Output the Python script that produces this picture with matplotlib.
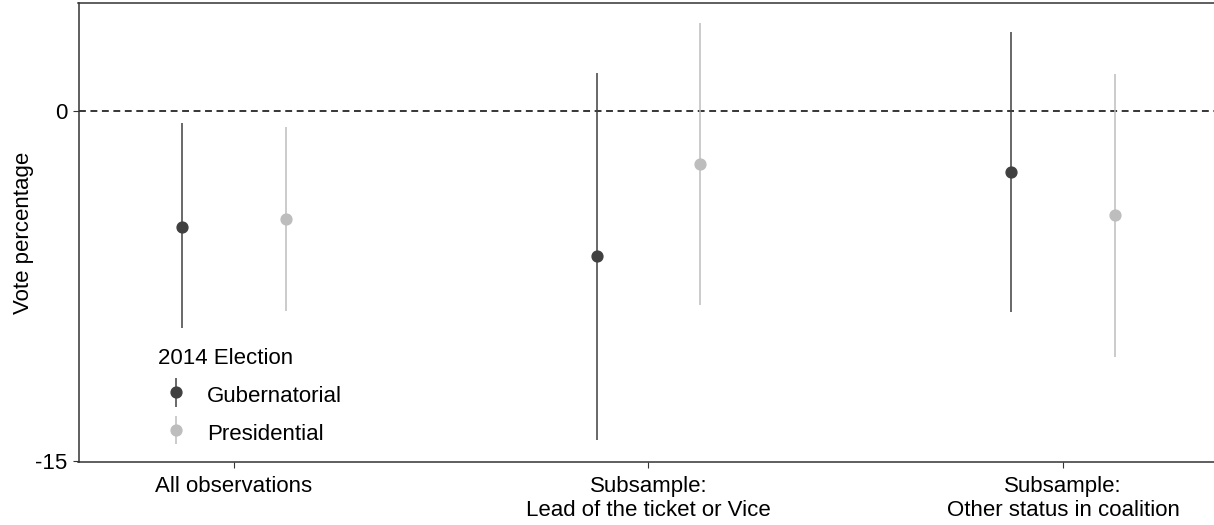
import matplotlib
matplotlib.use("Agg")
import matplotlib.pyplot as plt
from matplotlib.container import ErrorbarContainer
from matplotlib.legend_handler import HandlerErrorbar

#------------------------------------------------------------
groups = ["All observations", "Subsample:\nLead of the ticket or Vice",
          "Subsample:\nOther status in coalition"]
series = ["Gubernatorial", "Presidential"]

gub_est = [-4.97, -6.21, -2.63]
gub_lo  = [-9.30, -14.10, -8.63]
gub_hi  = [-0.51, 1.62, 3.39]

pres_est = [-4.63, -2.27, -4.46]
pres_lo  = [-8.57, -8.31, -10.56]
pres_hi  = [-0.69, 3.78, 1.59]

yticks = [0, -15]
ytick_labels = ["0", "-15"]

#------------------------------------------------------------
plt.rcParams['font.family'] = ['Liberation Sans', 'DejaVu Sans']
plt.rcParams['axes.unicode_minus'] = False

W, H = 1214, 525
fig = plt.figure(figsize=(W / 100, H / 100), dpi=100)
ax = fig.add_axes([78.5 / W, (H - 462.3) / H, 1 - 78.5 / W, (462.3 - 3.3) / H])

colors = ["#404040", "#bdbdbd"]
offsets = [-0.125, 0.125]
data = [(gub_est, gub_lo, gub_hi), (pres_est, pres_lo, pres_hi)]

ax.axhline(0, color="black", lw=1.1, dashes=(4.5, 3), zorder=1)

for k, (est, lo, hi) in enumerate(data):
    xs = [i + 1 + offsets[k] for i in range(len(groups))]
    yerr = [[e - l for e, l in zip(est, lo)], [h - e for e, h in zip(est, hi)]]
    ax.errorbar(xs, est, yerr=yerr, fmt="o", color=colors[k], ms=7.8,
                elinewidth=1.1, capsize=0, label=series[k], zorder=3)

ax.set_xlim(0.625, 1 + (W - 78.5 - 155.5) / 414.5)
ax.set_ylim(-15.06, 4.62)
ax.set_xticks([1, 2, 3])
ax.set_xticklabels(groups, fontsize=16, linespacing=1.2)
ax.set_yticks(yticks)
ax.set_yticklabels(ytick_labels, fontsize=16)
ax.tick_params(axis="x", length=4, width=0.8, color="#333333", pad=6)
ax.tick_params(axis="y", length=4, width=0.8, color="#333333", pad=4)
ax.set_ylabel("Vote percentage", fontsize=16, labelpad=1)

for s in ["left", "bottom", "top"]:
    ax.spines[s].set_color("#333333")
    ax.spines[s].set_linewidth(1.1)
ax.spines["right"].set_visible(False)

leg = ax.legend(title="2014 Election", loc="upper left",
                bbox_to_anchor=(138 / W, (H - 328) / H), bbox_transform=fig.transFigure,
                frameon=False, fontsize=16, title_fontsize=16,
                handlelength=1.6, handleheight=1.3, handletextpad=0.62,
                labelspacing=0.6,
                handler_map={ErrorbarContainer: HandlerErrorbar(yerr_size=0.65)})
leg._legend_box.align = "left"

fig.savefig("out.png", dpi=100)
